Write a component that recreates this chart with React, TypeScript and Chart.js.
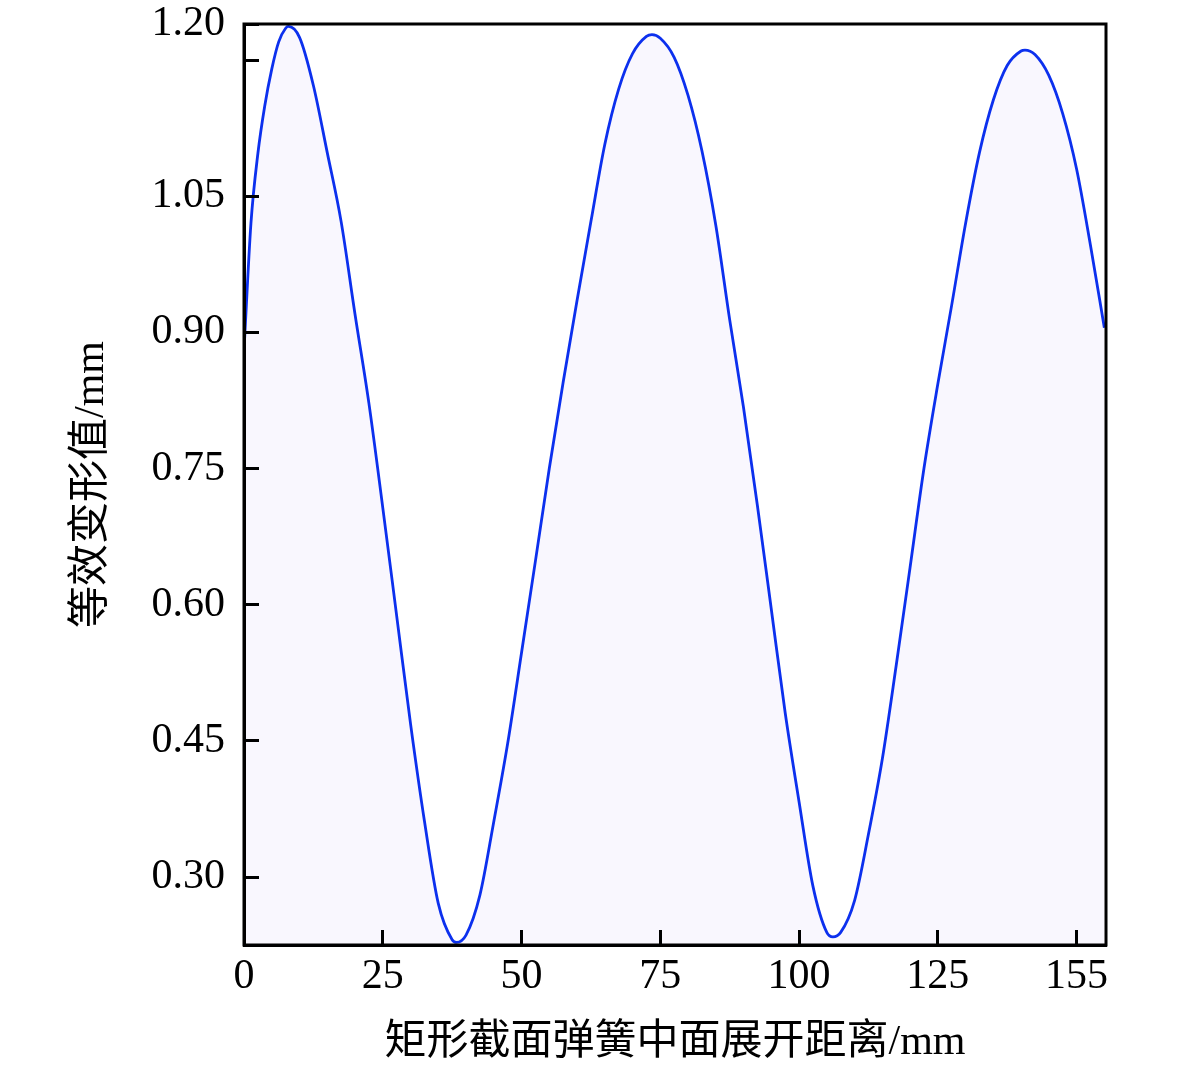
import React, { useEffect, useRef } from "react";
import { Chart, registerables } from "chart.js";

Chart.register(...registerables);

// Distance along the unfolded mid-surface (mm)
const xValues: number[] = [
  0, 1.25, 2.5, 3.75, 5, 6.25, 7.5, 8, 10, 12.5, 15, 17.5, 20, 22.5, 25, 27.5, 30, 32.5, 35, 37.5, 38.3,
  40, 42.5, 45, 47.5, 50, 52.5, 55, 57.5, 60, 62.5, 65, 67.5, 70, 72.5, 73.5, 75, 77.5, 80, 82.5,
  85, 87.5, 90, 92.5, 95, 97.5, 100, 102.5, 105, 106.1, 107.5, 110, 112.5, 115, 117.5, 120, 122.5,
  125, 127.5, 130, 132.5, 135, 137.5, 140, 140.7, 142.5, 145, 147.5, 150, 152.5, 155,
];

// Equivalent deformation (mm)
const yValues: number[] = [
  0.88, 1.02, 1.097, 1.15, 1.19, 1.22, 1.235, 1.237, 1.225, 1.172, 1.098, 1.022, 0.92, 0.822, 0.707,
  0.588, 0.469, 0.362, 0.271, 0.231, 0.228, 0.236, 0.28, 0.361, 0.447, 0.547, 0.648, 0.75, 0.845,
  0.935, 1.022, 1.107, 1.168, 1.207, 1.226, 1.228, 1.224, 1.203, 1.161, 1.1, 1.018, 0.914, 0.817,
  0.709, 0.595, 0.481, 0.383, 0.29, 0.239, 0.234, 0.239, 0.274, 0.347, 0.43, 0.533, 0.641, 0.75,
  0.843, 0.93, 1.02, 1.098, 1.156, 1.194, 1.21, 1.211, 1.206, 1.183, 1.141, 1.08, 0.996, 0.905,
];

const X_MIN = 0;
const X_MAX = 155.3;
const Y_MIN = 0.2251;
const Y_MAX = 1.2397;

const xTickValues: number[] = [0, 25, 50, 75, 100, 125, 150];
const xTickLabels: string[] = ["0", "25", "50", "75", "100", "125", "155"];

const yTickValues: number[] = [0.3, 0.45, 0.6, 0.75, 0.9, 1.05, 1.2, Y_MAX];
const yTickLabels: string[] = ["0.30", "0.45", "0.60", "0.75", "0.90", "1.05", "", "1.20"];

const xTitle = "矩形截面弹簧中面展开距离/mm";
const yTitle = "等效变形值/mm";

const FONT_FAMILY = "'Liberation Serif', 'Noto Sans CJK SC', serif";

const framePlugin = {
  id: "frame",
  afterDraw(chart: any) {
    const { ctx, chartArea } = chart;
    ctx.save();
    ctx.strokeStyle = "#000";
    ctx.lineWidth = 3;
    ctx.strokeRect(chartArea.left, chartArea.top, chartArea.right - chartArea.left, chartArea.bottom - chartArea.top);
    ctx.restore();
  },
};

export default function App() {
  const canvasRef = useRef<HTMLCanvasElement | null>(null);

  useEffect(() => {
    if (!canvasRef.current) return;
    const points = xValues.map((x, i) => ({ x, y: yValues[i] }));
    const chart = new Chart(canvasRef.current, {
      type: "line",
      data: {
        datasets: [
          {
            data: points,
            borderColor: "#0c30ee",
            borderWidth: 2.8,
            backgroundColor: "rgb(249,247,254)",
            fill: "start",
            pointRadius: 0,
            cubicInterpolationMode: "monotone",
          },
        ],
      },
      options: {
        animation: false,
        responsive: false,
        maintainAspectRatio: false,
        layout: { padding: { top: 24, right: 75, left: 0, bottom: 0 } },
        plugins: { legend: { display: false }, tooltip: { enabled: false } },
        scales: {
          x: {
            type: "linear",
            min: X_MIN,
            max: X_MAX,
            afterBuildTicks: (scale: any) => {
              scale.ticks = xTickValues.map((v) => ({ value: v }));
            },
            afterFit: (scale: any) => {
              scale.height = 127;
              scale.paddingLeft = 0;
              scale.paddingRight = 0;
            },
            ticks: {
              callback: (value: any) => {
                const i = xTickValues.indexOf(Number(value));
                return i >= 0 ? xTickLabels[i] : "";
              },
              font: { family: FONT_FAMILY, size: 42 },
              color: "#000",
              padding: 22,
              maxRotation: 0,
              autoSkip: false,
            },
            grid: {
              z: 1,
              drawOnChartArea: false,
              drawTicks: true,
              tickLength: -15,
              tickWidth: 3,
              tickColor: "#000",
            },
            border: { display: true, color: "#000", width: 3, z: 1 },
            title: {
              display: true,
              text: xTitle,
              font: { family: FONT_FAMILY, size: 42 },
              color: "#000",
              padding: { top: 4, bottom: 4 },
            },
          },
          y: {
            type: "linear",
            min: Y_MIN,
            max: Y_MAX,
            afterBuildTicks: (scale: any) => {
              scale.ticks = yTickValues.map((v) => ({ value: v }));
            },
            afterFit: (scale: any) => {
              scale.width = 244;
              scale.paddingTop = 0;
              scale.paddingBottom = 0;
            },
            ticks: {
              callback: (value: any) => {
                const v = Number(value);
                const i = yTickValues.findIndex((t) => Math.abs(t - v) < 1e-9);
                return i >= 0 ? yTickLabels[i] : "";
              },
              font: { family: FONT_FAMILY, size: 42 },
              color: "#000",
              padding: 34,
              autoSkip: false,
            },
            grid: {
              z: 1,
              drawOnChartArea: false,
              drawTicks: true,
              tickLength: -15,
              tickWidth: 3,
              tickColor: "#000",
            },
            border: { display: true, color: "#000", width: 3, z: 1 },
            title: {
              display: true,
              text: yTitle,
              font: { family: FONT_FAMILY, size: 42 },
              color: "#000",
              padding: { top: 67, bottom: 0 },
            },
          },
        },
      },
      plugins: [framePlugin],
    } as any);
    return () => chart.destroy();
  }, []);

  return (
    <div style={{ position: "fixed", left: 0, top: 0, width: 1181, height: 1072, background: "#fff" }}>
      <canvas ref={canvasRef} width={1181} height={1072} style={{ width: 1181, height: 1072, display: "block" }} />
    </div>
  );
}
